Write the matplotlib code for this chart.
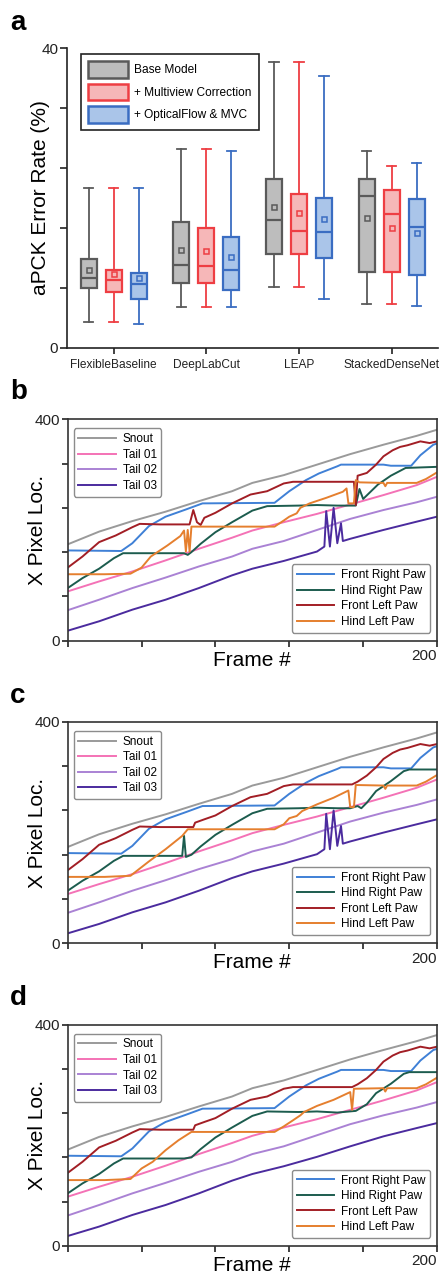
import matplotlib
matplotlib.use("Agg")
import matplotlib.pyplot as plt
from matplotlib.patches import Patch

plt.rcParams["font.family"] = ["Liberation Sans", "DejaVu Sans"]

# ---- panel a: aPCK error rate boxes ----
methods = ["FlexibleBaseline", "DeepLabCut", "LEAP", "StackedDenseNet"]
model_names = ["Base Model", "+ Multiview Correction", "+ OpticalFlow & MVC"]

base_whislo = [3.45, 5.5, 8.05, 5.9]
base_q1 = [7.95, 8.6, 12.55, 10.05]
base_med = [9.25, 11.05, 17.0, 20.2]
base_q3 = [11.85, 16.75, 22.55, 22.55]
base_whishi = [21.3, 26.5, 38.1, 26.3]
base_mean = [10.4, 13.1, 18.8, 17.25]

mvc_whislo = [3.45, 5.5, 8.05, 5.9]
mvc_q1 = [7.45, 8.6, 12.55, 10.05]
mvc_med = [9.1, 10.85, 15.6, 17.85]
mvc_q3 = [10.4, 15.95, 20.55, 21.0]
mvc_whishi = [21.3, 26.5, 38.1, 24.25]
mvc_mean = [9.85, 12.85, 17.95, 16.0]

of_whislo = [3.15, 5.4, 6.5, 5.6]
of_q1 = [6.55, 7.65, 12.0, 9.75]
of_med = [8.45, 10.4, 15.4, 16.15]
of_q3 = [9.95, 14.8, 20.0, 19.85]
of_whishi = [21.3, 26.3, 36.2, 24.6]
of_mean = [9.3, 12.15, 17.2, 15.25]

# ---- panels b-d: x pixel location per frame (frame, value) ----
snout = [(0, 174), (17, 197), (35, 216), (53, 233), (71, 252), (89, 270), (100, 285),
         (117, 299), (135, 318), (153, 337), (171, 354), (189, 370), (200, 381)]
tail01 = [(0, 89), (17, 107), (35, 125), (53, 145), (71, 166), (89, 186), (100, 199),
          (117, 214), (135, 229), (153, 246), (171, 263), (189, 281), (200, 296)]
tail02 = [(0, 55), (17, 74), (35, 95), (53, 114), (71, 134), (89, 152), (100, 166),
          (117, 180), (135, 200), (153, 220), (171, 236), (189, 250), (200, 260)]
tail03_spiky = [(0, 18), (17, 35), (35, 56), (53, 74), (71, 95), (89, 118), (100, 130),
                (117, 144), (135, 161), (139, 170), (140, 234), (142, 170), (144, 240),
                (146, 176), (148, 212), (149, 180), (153, 184), (171, 200), (189, 215), (200, 224)]
tail03_smooth = [(0, 18), (17, 35), (35, 56), (53, 74), (71, 95), (89, 118), (100, 130),
                 (117, 144), (135, 161), (153, 180), (171, 198), (189, 213), (200, 222)]

front_right = [(0, 163), (29, 162), (35, 176), (44, 207), (53, 224), (64, 237), (73, 248),
               (112, 249), (120, 270), (129, 290), (136, 302), (146, 315), (148, 318),
               (171, 318), (175, 316), (186, 316), (191, 335), (198, 354), (200, 356)]

hind_right_b = [(0, 95), (8, 113), (17, 130), (25, 149), (30, 158), (45, 158), (63, 158),
                (65, 155), (67, 160), (72, 175), (80, 196), (89, 214), (100, 235), (108, 243),
                (125, 244), (135, 245), (146, 244), (156, 244), (158, 274), (160, 256),
                (168, 282), (175, 298), (183, 312), (200, 314)]
hind_right_c = [(0, 95), (8, 113), (17, 130), (25, 149), (30, 158), (45, 158), (62, 158),
                (63, 194), (64, 156), (67, 160), (72, 175), (80, 196), (89, 214), (100, 235),
                (108, 243), (125, 244), (135, 245), (146, 244), (153, 244), (157, 248),
                (159, 244), (162, 254), (167, 275), (175, 293), (182, 311), (185, 314), (200, 314)]
hind_right_d = [(0, 95), (8, 113), (17, 130), (25, 149), (30, 158), (45, 158), (63, 158),
                (67, 160), (72, 175), (80, 196), (89, 214), (100, 235), (108, 243), (125, 242),
                (135, 243), (146, 241), (156, 244), (162, 256), (167, 276), (175, 293),
                (182, 311), (185, 314), (200, 314)]

front_left_b = [(0, 132), (8, 152), (17, 178), (26, 190), (35, 205), (39, 211), (50, 210),
                (66, 210), (68, 236), (70, 214), (72, 209), (74, 222), (80, 231), (89, 248),
                (99, 264), (108, 270), (117, 284), (122, 287), (155, 287), (156, 245),
                (157, 298), (162, 303), (167, 318), (171, 333), (176, 344), (180, 350),
                (184, 353), (191, 360), (196, 357), (200, 360)]
front_left_cd = [(0, 132), (8, 152), (17, 178), (26, 190), (35, 205), (39, 211), (50, 210),
                 (68, 210), (69, 218), (74, 224), (80, 231), (89, 248), (99, 264), (108, 270),
                 (117, 284), (122, 287), (154, 287), (157, 292), (162, 303), (167, 318),
                 (171, 333), (176, 344), (180, 350), (184, 353), (191, 360), (196, 357), (200, 360)]

hind_left_b = [(0, 120), (20, 120), (34, 121), (40, 132), (45, 152), (54, 172), (61, 189),
               (63, 199), (64, 161), (65, 200), (66, 161), (67, 206), (112, 206), (117, 217),
               (120, 224), (124, 230), (126, 240), (131, 248), (140, 258), (149, 269),
               (151, 275), (152, 248), (155, 248), (156, 290), (158, 286), (171, 285),
               (172, 279), (173, 285), (189, 285), (194, 292), (200, 304)]
hind_left_c = [(0, 120), (20, 120), (34, 122), (44, 148), (53, 170), (62, 194), (65, 206),
               (112, 206), (117, 215), (120, 226), (124, 230), (127, 239), (135, 251),
               (144, 263), (152, 276), (153, 246), (155, 246), (156, 286), (171, 285),
               (172, 279), (173, 285), (189, 285), (194, 292), (200, 304)]
hind_left_d = [(0, 119), (20, 119), (34, 121), (40, 140), (46, 152), (53, 173), (60, 191),
               (67, 206), (112, 206), (117, 216), (122, 227), (126, 236), (128, 242),
               (135, 253), (144, 264), (153, 278), (154, 246), (155, 284), (171, 285),
               (172, 279), (173, 285), (189, 285), (194, 292), (200, 304)]

fig = plt.figure(figsize=(4.4, 12.77), dpi=100)

# ------------------------------------------------------------------ a
ax = fig.add_axes([0.1530, 0.7277, 0.8425, 0.2347])
edge_cols = ["#5a5a5a", "#ee3e43", "#3a6dc2"]
face_cols = ["#bdbdbd", "#f6b7b8", "#aac5e9"]
offsets = [-0.27, 0.0, 0.27]
groups = [
    (base_whislo, base_q1, base_med, base_q3, base_whishi, base_mean),
    (mvc_whislo, mvc_q1, mvc_med, mvc_q3, mvc_whishi, mvc_mean),
    (of_whislo, of_q1, of_med, of_q3, of_whishi, of_mean),
]
for k, (lo, q1, med, q3, hi, mean) in enumerate(groups):
    stats = [dict(whislo=lo[i], q1=q1[i], med=med[i], q3=q3[i], whishi=hi[i],
                  mean=mean[i], fliers=[]) for i in range(len(methods))]
    ec, fc = edge_cols[k], face_cols[k]
    ax.bxp(stats, positions=[i + offsets[k] for i in range(len(methods))],
           widths=0.175, capwidths=0.1, patch_artist=True, showmeans=True,
           showfliers=False,
           boxprops=dict(facecolor=fc, edgecolor=ec, linewidth=1.6),
           medianprops=dict(color=ec, linewidth=1.6),
           whiskerprops=dict(color=ec, linewidth=1.3),
           capprops=dict(color=ec, linewidth=1.3),
           meanprops=dict(marker="s", markersize=3.6, markerfacecolor=fc,
                          markeredgecolor=ec, markeredgewidth=1.1))
ax.set_xlim(-0.5, 3.5)
ax.set_ylim(0, 40)
ax.set_xticks(range(len(methods)))
ax.set_xticklabels(methods, fontsize=8.6)
ax.set_yticks([0, 8, 16, 24, 32, 40])
ax.set_yticklabels(["0", "", "", "", "", "40"], fontsize=11)
ax.tick_params(axis="x", length=4, width=1.2, pad=4, colors="#222222")
ax.tick_params(axis="y", length=5, width=1.2, pad=1.5, colors="#222222")
for s in ["top", "right"]:
    ax.spines[s].set_visible(False)
for s in ["left", "bottom"]:
    ax.spines[s].set_linewidth(1.2)
    ax.spines[s].set_color("#222222")
ax.set_ylabel("aPCK Error Rate (%)", fontsize=15)
ax.yaxis.set_label_coords(-0.048, 0.5)
handles = [Patch(facecolor=face_cols[k], edgecolor=edge_cols[k], linewidth=1.8,
                 label=model_names[k]) for k in range(3)]
leg = ax.legend(handles=handles, loc="upper left", bbox_to_anchor=(0.02, 1.0),
                fontsize=8.6, handlelength=3.4, handleheight=1.75, handletextpad=0.5,
                labelspacing=0.5, borderpad=0.6, fancybox=False, framealpha=1,
                edgecolor="#222222")
leg.get_frame().set_linewidth(1.2)

# ------------------------------------------------------------------ b-d
tail_names = ["Snout", "Tail 01", "Tail 02", "Tail 03"]
tail_cols = ["#9a9a9a", "#f472b6", "#aa82d4", "#4b2b9e"]
paw_names = ["Front Right Paw", "Hind Right Paw", "Front Left Paw", "Hind Left Paw"]
paw_cols = ["#3f80d6", "#1c5c4e", "#a21e25", "#e57f2e"]

panels = [
    (0.4983, tail03_spiky, hind_right_b, front_left_b, hind_left_b),
    (0.2613, tail03_spiky, hind_right_c, front_left_cd, hind_left_c),
    (0.0243, tail03_smooth, hind_right_d, front_left_cd, hind_left_d),
]
for bottom, t03, hr, fl, hl in panels:
    ax = fig.add_axes([0.1539, bottom, 0.8393, 0.1734])
    tails = [snout, tail01, tail02, t03]
    paws = [front_right, hr, fl, hl]
    tl, pl = [], []
    for pts, c, n in zip(tails, tail_cols, tail_names):
        tl += ax.plot([p[0] for p in pts], [p[1] for p in pts], color=c, lw=1.4, label=n)
    for pts, c, n in zip(paws, paw_cols, paw_names):
        pl += ax.plot([p[0] for p in pts], [p[1] for p in pts], color=c, lw=1.4, label=n)
    ax.set_xlim(0, 200)
    ax.set_ylim(0, 400)
    ax.set_xticks([0, 40, 80, 120, 160, 200])
    ax.set_xticklabels(["", "", "", "", "", "200"], fontsize=11)
    ax.get_xticklabels()[-1].set_horizontalalignment("right")
    ax.set_yticks([0, 80, 160, 240, 320, 400])
    ax.set_yticklabels(["0", "", "", "", "", "400"], fontsize=11)
    ax.tick_params(axis="both", length=4, width=1.2, colors="#222222")
    ax.tick_params(axis="x", pad=2)
    ax.tick_params(axis="y", pad=1.5)
    for s in ax.spines.values():
        s.set_linewidth(1.2)
        s.set_color("#333333")
    ax.set_xlabel("Frame #", fontsize=15)
    ax.xaxis.set_label_coords(0.5, -0.045)
    ax.set_ylabel("X Pixel Loc.", fontsize=15)
    ax.yaxis.set_label_coords(-0.056, 0.5)
    kw = dict(fontsize=8.5, handlelength=3.2, handletextpad=0.55, labelspacing=0.3,
              borderpad=0.4, framealpha=1, edgecolor="#8c8c8c")
    leg1 = ax.legend(handles=tl, loc="upper left", bbox_to_anchor=(0.0, 0.985), **kw)
    ax.add_artist(leg1)
    ax.legend(handles=pl, loc="lower right", bbox_to_anchor=(0.997, 0.01), **kw)

for lab, base in zip("abcd", [30, 399, 703, 1005]):
    fig.text(10 / 440, 1 - base / 1277, lab, fontsize=20, fontweight="bold",
             va="baseline", ha="left")

fig.savefig("out.png", dpi=100)
